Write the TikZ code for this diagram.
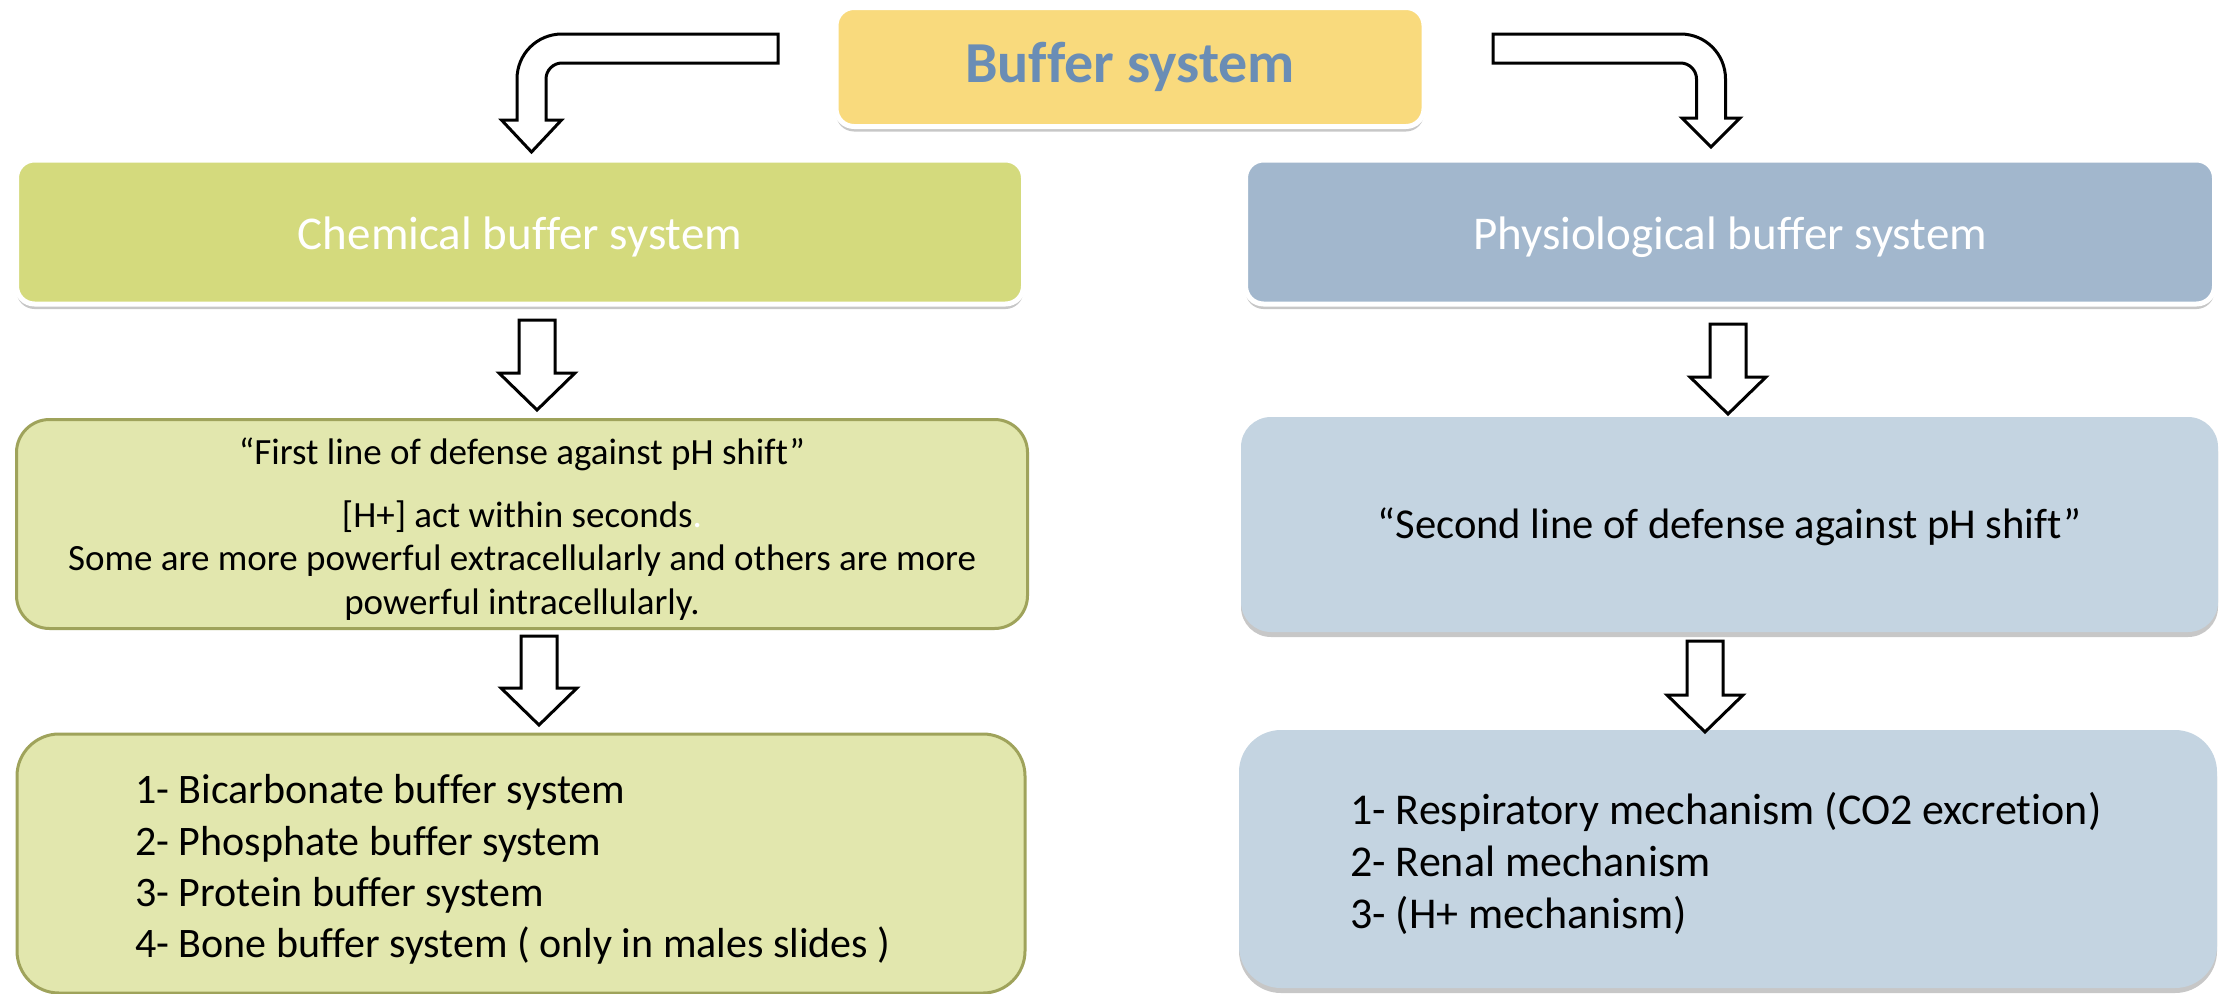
\documentclass[tikz,border=0pt]{standalone}
\usepackage{fontspec}
\setmainfont{Carlito}[Ligatures=NoCommon]
\usetikzlibrary{shadows,calc}
\definecolor{bufY}{HTML}{F9DA7D}
\definecolor{bufT}{HTML}{6A8DB5}
\definecolor{chemG}{HTML}{D4DA7D}
\definecolor{physB}{HTML}{A2B7CD}
\definecolor{chemL}{HTML}{E2E7AE}
\definecolor{oliveL}{HTML}{9FA35B}
\definecolor{physL}{HTML}{C4D4E1}
\tikzset{
  shad/.style={drop shadow={shadow xshift=0pt,shadow yshift=-5pt,opacity=0.22,fill=black}},
  topbox/.style={draw=white,line width=5pt,rounded corners=18pt,shad,inner sep=0pt},
  olbox/.style={draw=oliveL,line width=3pt,fill=chemL,inner sep=0pt},
  blbox/.style={fill=physL,shad,inner sep=0pt},
  blk/.style={draw=black,line width=3pt,fill=white,line join=miter},
  txt/.style={inner sep=0pt,text=black},
}
\newcommand{\blkarrow}[2]{\draw[blk] let \p1=(#1), \p2=(#2) in
  (\x2-18pt,\y1) -- (\x2+18pt,\y1) -- (\x2+18pt,\y2+37pt) -- (\x2+38pt,\y2+37pt)
  -- (\x2,\y2) -- (\x2-38pt,\y2+37pt) -- (\x2-18pt,\y2+37pt) -- cycle;}
\newcommand{\bentarrow}[5]{\draw[blk] let \p1=(#1), \p2=(#2) in
  (\x1,{\y1+14.5pt}) -- ({\x2+#3*30.5pt},{\y1+14.5pt})
  .. controls ({\x2+#3*5.5pt},{\y1+14.5pt}) and ({\x2-#3*14.5pt},{\y1-5.5pt}) .. ({\x2-#3*14.5pt},{\y1-30.5pt})
  -- ({\x2-#3*14.5pt},{\y2+#4}) -- ({\x2-#3*#5},{\y2+#4}) -- (\x2,\y2) -- ({\x2+#3*#5},{\y2+#4}) -- ({\x2+#3*14.5pt},{\y2+#4})
  -- ({\x2+#3*14.5pt},{\y1-30.5pt}) .. controls ({\x2+#3*14.5pt},{\y1-21.7pt}) and ({\x2+#3*21.7pt},{\y1-14.5pt}) .. ({\x2+#3*30.5pt},{\y1-14.5pt})
  -- (\x1,{\y1-14.5pt}) -- cycle;}
\begin{document}
\begin{tikzpicture}[x=1pt,y=-1pt]
\useasboundingbox[fill=white] (0,0) rectangle (2226,993);
\clip (0,0) rectangle (2226,993);

% boxes
\node[topbox,fill=bufY,minimum width=588pt,minimum height=119pt,
      text=bufT,font=\fontsize{58}{66}\selectfont\bfseries,text height=41pt,text depth=11pt] (buf) at (1130,67) {Buffer system};
\node[topbox,fill=chemG,minimum width=1007pt,minimum height=144pt,
      text=white,font=\fontsize{47}{56}\selectfont,text height=44pt,text depth=10pt] (chem) at (520,232) {Chemical buffer system};
\node[topbox,fill=physB,minimum width=969pt,minimum height=144pt,
      text=white,font=\fontsize{47}{56}\selectfont,text height=44pt,text depth=10pt] (phys) at (1730,232) {Physiological buffer system};

\node[olbox,rounded corners=33pt,minimum width=1011pt,minimum height=209pt] (first) at (522,524) {};
\node[blbox,rounded corners=30pt,minimum width=977pt,minimum height=215pt,
      font=\fontsize{42.6}{50}\selectfont,text height=36pt,text depth=9pt] (second) at (1729.5,524.5) {“Second line of defense against pH shift”};
\node[olbox,rounded corners=42pt,minimum width=1008pt,minimum height=259pt] (listL) at (521,863.5) {};
\node[blbox,rounded corners=42pt,minimum width=978pt,minimum height=258pt] (listR) at (1728,859) {};

% texts
\node[txt,align=center,font=\fontsize{37}{43.5}\selectfont] (firstT) at (522,528.7)
  {“First line of defense against pH shift”\\[19.5pt]
   {[H+]} act within seconds{\color{white}.}\\
   Some are more powerful extracellularly and others are more\\
   powerful intracellularly.};
\node[txt,align=left,anchor=west,font=\fontsize{42}{51.3}\selectfont] (listLT) at (135,869.5)
  {1- Bicarbonate buffer system\\
   2- Phosphate buffer system\\
   3- Protein buffer system\\
   4- Bone buffer system ( only in males slides )};
\node[txt,align=left,anchor=west,font=\fontsize{44}{52}\selectfont] (listRT) at (1350,863)
  {1- Respiratory mechanism (CO2 excretion)\\
   2- Renal mechanism\\
   3- (H+ mechanism)};

% connector coordinates
\coordinate (lbs) at (778,48.5);
\coordinate (lbt) at (531.5,152);
\coordinate (rbs) at (1493,48.5);
\coordinate (rbt) at (1711,147);
\coordinate (a1t) at (537,320);  \coordinate (a1h) at (537,410);
\coordinate (a2t) at (539,636);  \coordinate (a2h) at (539,725);
\coordinate (a3t) at (1728,324); \coordinate (a3h) at (1728,414);
\coordinate (a4t) at (1705,641); \coordinate (a4h) at (1705,732);

% arrows
\bentarrow{lbs}{lbt}{1}{32pt}{30pt}
\bentarrow{rbs}{rbt}{-1}{29pt}{29pt}
\blkarrow{a1t}{a1h}
\blkarrow{a2t}{a2h}
\blkarrow{a3t}{a3h}
\blkarrow{a4t}{a4h}
\end{tikzpicture}
\end{document}
